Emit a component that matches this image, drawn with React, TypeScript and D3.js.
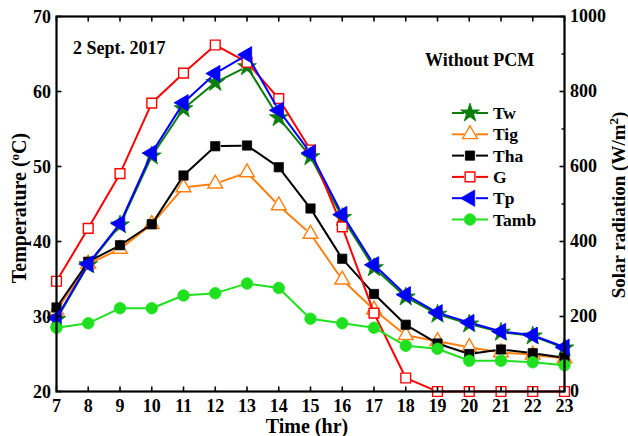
import React from "react";
import * as d3 from "d3";

const hours = [7, 8, 9, 10, 11, 12, 13, 14, 15, 16, 17, 18, 19, 20, 21, 22, 23];
const tw = [29.6, 36.9, 42.2, 51.4, 57.7, 61.2, 63.3, 56.5, 51.3, 43.2, 36.5, 32.6, 30.3, 29.0, 27.9, 27.4, 25.8];
const tig = [30.8, 37.0, 39.0, 42.3, 47.2, 47.7, 49.2, 44.8, 41.0, 34.9, 30.9, 27.5, 26.7, 25.9, 25.2, 24.9, 24.4];
const tha = [31.2, 37.3, 39.5, 42.3, 48.8, 52.7, 52.8, 49.9, 44.4, 37.7, 33.0, 28.9, 26.4, 25.0, 25.6, 25.1, 24.5];
const gRad = [294, 435, 581, 769, 849, 924, 878, 781, 644, 439, 209, 36, 0, 0, 0, 0, 0];
const tp = [29.8, 37.0, 42.4, 51.8, 58.5, 62.4, 64.9, 57.5, 51.8, 43.6, 36.9, 32.9, 30.5, 29.2, 28.0, 27.5, 25.9];
const tamb = [28.5, 29.1, 31.1, 31.1, 32.8, 33.1, 34.4, 33.8, 29.7, 29.1, 28.5, 26.1, 25.7, 24.1, 24.1, 23.9, 23.5];

const leftTicks = [20, 30, 40, 50, 60, 70];
const rightTicks = [0, 200, 400, 600, 800, 1000];
const rightMinor = [100, 300, 500, 700, 900];

const W = 628, H = 436;
const L = 56.5, R = 564.5, T = 16.5, B = 391.5;
const FONT = "'Liberation Serif', 'Times New Roman', serif";

const x = d3.scaleLinear().domain([7, 23]).range([L, R]);
const yL = d3.scaleLinear().domain([20, 70]).range([B, T]);
const yR = d3.scaleLinear().domain([0, 1000]).range([B, T]);

type Series = {
  name: string;
  values: number[];
  axis: "L" | "R";
  color: string;
  sym: d3.SymbolType;
  size: number;
  rotate: number;
  open: boolean;
};

const series: Series[] = [
  { name: "Tw", values: tw, axis: "L", color: "#0b7d0b", sym: d3.symbolStar, size: 110, rotate: 0, open: false },
  { name: "Tig", values: tig, axis: "L", color: "#ff8010", sym: d3.symbolTriangle, size: 95, rotate: 0, open: true },
  { name: "Tha", values: tha, axis: "L", color: "#000000", sym: d3.symbolSquare, size: 85, rotate: 0, open: false },
  { name: "G", values: gRad, axis: "R", color: "#ff0000", sym: d3.symbolSquare, size: 95, rotate: 0, open: true },
  { name: "Tp", values: tp, axis: "L", color: "#0000ff", sym: d3.symbolTriangle, size: 115, rotate: -90, open: false },
  { name: "Tamb", values: tamb, axis: "L", color: "#1ee01e", sym: d3.symbolCircle, size: 105, rotate: 0, open: false },
];

const GAP = 5.5;

function segs(pts: [number, number][]) {
  const out: string[] = [];
  for (let i = 0; i < pts.length - 1; i++) {
    const [x1, y1] = pts[i];
    const [x2, y2] = pts[i + 1];
    const dx = x2 - x1, dy = y2 - y1;
    const len = Math.hypot(dx, dy);
    if (len <= 2 * GAP) continue;
    const ux = dx / len, uy = dy / len;
    out.push(`M${x1 + ux * GAP},${y1 + uy * GAP}L${x2 - ux * GAP},${y2 - uy * GAP}`);
  }
  return out.join("");
}

function Marker({ s, cx, cy }: { s: Series; cx: number; cy: number }) {
  const d = d3.symbol().type(s.sym).size(s.size)() || "";
  return (
    <path
      d={d}
      transform={`translate(${cx},${cy}) rotate(${s.rotate})`}
      fill={s.open ? "#ffffff" : s.color}
      stroke={s.color}
      strokeWidth={s.open ? 1.4 : 0.8}
    />
  );
}

export default function App() {
  const legendY0 = 113;
  const legendStep = 21.3;
  return (
    <svg width={W} height={H} style={{ position: "absolute", left: 0, top: 0, background: "#fff" }} fontFamily={FONT}>
      <rect x={0} y={0} width={W} height={H} fill="#fff" />
      {/* series */}
      {series.map((s) => {
        const ys = s.axis === "L" ? yL : yR;
        const pts: [number, number][] = s.values.map((v, i) => [x(hours[i]), ys(v)]);
        return (
          <g key={s.name}>
            <path d={segs(pts)} stroke={s.color} strokeWidth={2} fill="none" />
            {pts.map((p, i) => (
              <Marker key={i} s={s} cx={p[0]} cy={p[1]} />
            ))}
          </g>
        );
      })}
      {/* frame */}
      <rect x={L} y={T} width={R - L} height={B - T} fill="none" stroke="#000" strokeWidth={2.2} />
      {/* x ticks */}
      {hours.map((h) => (
        <g key={h}>
          <line x1={x(h)} x2={x(h)} y1={B} y2={B - 5} stroke="#000" strokeWidth={1.6} />
          <line x1={x(h)} x2={x(h)} y1={T} y2={T + 5} stroke="#000" strokeWidth={1.6} />
          <text x={x(h)} y={412} textAnchor="middle" fontSize={18} fontWeight="bold">{h}</text>
        </g>
      ))}
      {/* left ticks */}
      {leftTicks.map((v) => (
        <g key={v}>
          <line x1={L} x2={L + 5} y1={yL(v)} y2={yL(v)} stroke="#000" strokeWidth={1.6} />
          <text x={51} y={yL(v) + 6} textAnchor="end" fontSize={18} fontWeight="bold">{v}</text>
        </g>
      ))}
      {/* right ticks */}
      {rightTicks.map((v) => (
        <g key={v}>
          <line x1={R} x2={R - 5} y1={yR(v)} y2={yR(v)} stroke="#000" strokeWidth={1.6} />
          <text x={570} y={yR(v) + 5.5} textAnchor="start" fontSize={18} fontWeight="bold">{v}</text>
        </g>
      ))}
      {rightMinor.map((v) => (
        <line key={v} x1={R} x2={R - 3} y1={yR(v)} y2={yR(v)} stroke="#000" strokeWidth={1.4} />
      ))}
      {/* axis titles */}
      <text x={307} y={433} textAnchor="middle" fontSize={20} fontWeight="bold">Time (hr)</text>
      <text transform={`translate(26,208) rotate(-90)`} textAnchor="middle" fontSize={20} fontWeight="bold">
        Temperature (<tspan baselineShift="super" fontSize={13}>o</tspan>C)
      </text>
      <text transform={`translate(625,205) rotate(-90)`} textAnchor="middle" fontSize={19} fontWeight="bold">
        Solar radiation (W/m<tspan baselineShift="super" fontSize={13}>2</tspan>)
      </text>
      {/* annotations */}
      <text x={73} y={54} fontSize={18} fontWeight="bold">2 Sept. 2017</text>
      <text x={425} y={66} fontSize={18} fontWeight="bold">Without PCM</text>
      {/* legend */}
      {series.map((s, i) => {
        const ly = legendY0 + i * legendStep;
        return (
          <g key={s.name}>
            <line x1={452} x2={464} y1={ly} y2={ly} stroke={s.color} strokeWidth={2} />
            <line x1={476} x2={488} y1={ly} y2={ly} stroke={s.color} strokeWidth={2} />
            <Marker s={s} cx={470} cy={ly} />
            <text x={493} y={ly + 6} fontSize={17.5} fontWeight="bold">{s.name}</text>
          </g>
        );
      })}
    </svg>
  );
}
